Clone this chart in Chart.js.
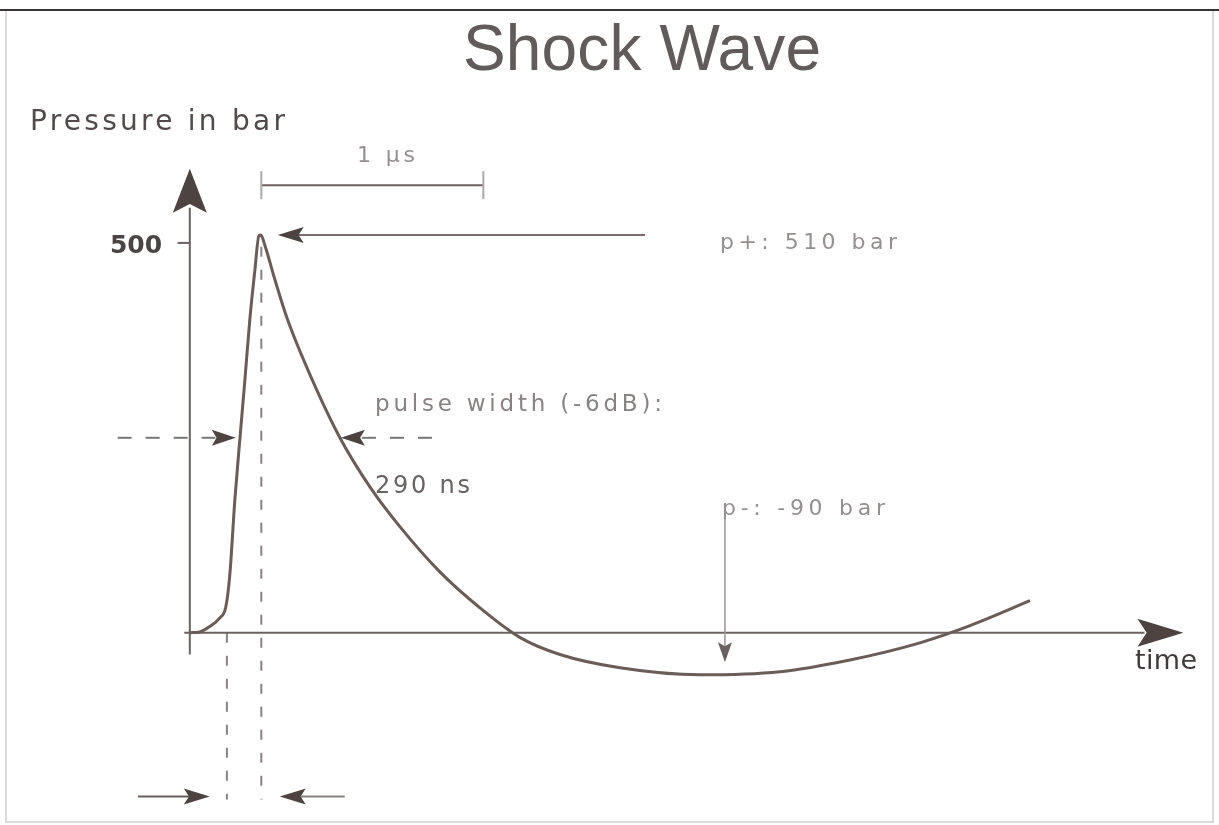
<!DOCTYPE html>
<html>
<head>
<meta charset="utf-8">
<title>Shock Wave</title>
<script src="https://cdn.jsdelivr.net/npm/chart.js@4.4.1/dist/chart.umd.min.js"></script>
<style>
  html, body { margin: 0; padding: 0; background: #fff; }
  #wrap { width: 1219px; height: 825px; }
</style>
</head>
<body>
<div id="wrap"><canvas id="shockChart" width="1219" height="825"></canvas></div>
<script>
// ================================
// DATA (time in ns, pressure in bar)
// ================================
const timeNs = [0, 45, 90, 135, 162, 180, 203, 225, 248, 270, 293, 311, 320,
  338, 383, 441, 541, 676, 811, 946, 1126, 1306, 1486, 1667, 1937, 2297,
  2658, 2973, 3288, 3514, 3784];
const pressureBar = [0, 1, 8, 19, 33, 74, 171, 247, 324, 401, 465, 509, 510,
  497, 453, 401, 331, 250, 187, 136, 78, 32, -6, -28, -45, -54,
  -50, -35, -13, 9, 41];

const yTicks = [500];
const footTime = 167;       // start of steep rise
const peakTime = 322;       // peak pressure time
const halfPressure = 250;   // -6 dB level
const riseHalfTime = 216;
const fallHalfTime = 676;
const troughTime = 2410;
const scaleBarNs = 1000;    // "1 µs"

const titleText = "Shock Wave";
const yAxisTitle = "Pressure in bar";
const xAxisTitle = "time";
const peakLabel = "p+: 510 bar";
const troughLabel = "p-: -90 bar";
const widthLabel = "pulse width (-6dB):";
const widthValue = "290 ns";
const scaleLabel = "1 \u00b5s";

// ================================
// DRAW HELPERS
// ================================
const INK = "#4d4341";
const AXIS = "#6b6262";

function arrowHead(ctx, tx, ty, angle, len, halfW, color) {
  ctx.save();
  ctx.translate(tx, ty);
  ctx.rotate(angle);
  ctx.beginPath();
  ctx.moveTo(0, 0);
  ctx.lineTo(-len, -halfW);
  ctx.lineTo(-len * 0.8, 0);
  ctx.lineTo(-len, halfW);
  ctx.closePath();
  ctx.fillStyle = color || INK;
  ctx.fill();
  ctx.restore();
}

function line(ctx, x1, y1, x2, y2, color, width, dash) {
  ctx.save();
  ctx.beginPath();
  ctx.setLineDash(dash || []);
  ctx.moveTo(x1, y1);
  ctx.lineTo(x2, y2);
  ctx.strokeStyle = color;
  ctx.lineWidth = width;
  ctx.stroke();
  ctx.restore();
}

// text stretched to a given width with letter spacing
function fitText(ctx, text, x, y, width, font, color, align) {
  ctx.save();
  ctx.font = font;
  ctx.fillStyle = color;
  ctx.textBaseline = "alphabetic";
  ctx.letterSpacing = "0px";
  const w = ctx.measureText(text).width;
  const sp = text.length > 1 ? (width - w) / (text.length - 1) : 0;
  ctx.letterSpacing = sp.toFixed(2) + "px";
  let left = x;
  if (align === "right") left = x - width;
  if (align === "center") left = x - width / 2;
  ctx.textAlign = "left";
  ctx.fillText(text, left, y);
  ctx.restore();
}

// ================================
// DIAGRAM PLUGIN
// ================================
const diagramPlugin = {
  id: "diagram",
  beforeDraw(chart) {
    const ctx = chart.ctx;
    ctx.save();
    ctx.fillStyle = "#fff";
    ctx.fillRect(0, 0, chart.width, chart.height);
    ctx.strokeStyle = "#cfcfcf";
    ctx.lineWidth = 1.5;
    ctx.strokeRect(6, 10, chart.width - 12, chart.height - 13);
    ctx.restore();
    line(ctx, 0, 10, chart.width, 10, "#3a3438", 2);
  },
  beforeDatasetsDraw(chart) {
    const ctx = chart.ctx;
    const X = v => chart.scales.x.getPixelForValue(v);
    const Y = v => chart.scales.y.getPixelForValue(v);

    // vertical dashed guides
    line(ctx, X(footTime), Y(0), X(footTime), Y(-214), "#8a8282", 2, [10, 13]);
    line(ctx, X(peakTime), Y(495), X(peakTime), Y(-214), "#8a8282", 2, [10, 13]);

    // y axis
    line(ctx, X(0), Y(-28), X(0), Y(545), AXIS, 2);
    arrowHead(ctx, X(0), Y(595), -Math.PI / 2, 44, 17, INK);
    yTicks.forEach(t => {
      line(ctx, X(-55), Y(t), X(0), Y(t), AXIS, 2);
      fitText(ctx, String(t), X(-125), Y(t) + 10, 52, "bold 25px 'DejaVu Sans'", "#4a4444", "right");
    });

    // x axis
    line(ctx, X(-25), Y(0), X(4300), Y(0), AXIS, 2);
    arrowHead(ctx, X(4475), Y(0), 0, 46, 14, INK);
  },
  afterDatasetsDraw(chart) {
    const ctx = chart.ctx;
    const X = v => chart.scales.x.getPixelForValue(v);
    const Y = v => chart.scales.y.getPixelForValue(v);

    // title and axis names
    fitText(ctx, titleText, 642, 70, 358, "64px 'Liberation Sans'", "#615b5b", "center");
    fitText(ctx, yAxisTitle, 30, 130, 255, "28px 'DejaVu Sans'", "#504a4a");
    fitText(ctx, xAxisTitle, 1135, 669, 62, "27px 'DejaVu Sans'", "#403b3b");

    // 1 µs scale bar
    const sbY = Y(574);
    line(ctx, X(peakTime), sbY, X(peakTime + scaleBarNs), sbY, "#6e6060", 2);
    line(ctx, X(peakTime), sbY - 14, X(peakTime), sbY + 14, "#aaa", 2);
    line(ctx, X(peakTime + scaleBarNs), sbY - 14, X(peakTime + scaleBarNs), sbY + 14, "#aaa", 2);
    fitText(ctx, scaleLabel, 357, 162, 58, "22px 'DejaVu Sans'", "#959090");

    // peak arrow
    line(ctx, X(2050), Y(510), X(420), Y(510), "#7a6c6c", 2);
    arrowHead(ctx, X(396), Y(510), Math.PI, 26, 8, INK);
    fitText(ctx, peakLabel, 720, 249, 177, "22px 'DejaVu Sans'", "#959090");

    // pulse width markers
    line(ctx, X(-325), Y(halfPressure), X(115), Y(halfPressure), "#777", 2, [14, 14]);
    arrowHead(ctx, X(riseHalfTime) - 2, Y(halfPressure), 0, 24, 8, INK);
    line(ctx, X(fallHalfTime) + 22, Y(halfPressure), X(1103), Y(halfPressure), "#777", 2, [14, 14]);
    arrowHead(ctx, X(fallHalfTime) + 1, Y(halfPressure), Math.PI, 24, 8, INK);
    fitText(ctx, widthLabel, 375, 411, 287, "23px 'DejaVu Sans'", "#888282");
    fitText(ctx, widthValue, 375, 493, 95, "24px 'DejaVu Sans'", "#686262");

    // trough arrow
    line(ctx, X(troughTime), Y(147), X(troughTime), Y(-25), "#9a9595", 1.5);
    arrowHead(ctx, X(troughTime), Y(-38), Math.PI / 2, 20, 7, "#6a6060");
    fitText(ctx, troughLabel, 722, 515, 163, "22px 'DejaVu Sans'", "#959090");

    // rise time arrows at bottom
    const by = Y(-210);
    line(ctx, X(-234), by, X(70), by, "#6a6060", 2);
    arrowHead(ctx, X(90), by, 0, 26, 8, INK);
    line(ctx, X(698), by, X(425), by, "#8a8282", 2);
    arrowHead(ctx, X(405), by, Math.PI, 26, 8, INK);
  }
};

// ================================
// SHOCK WAVE CURVE (LINE)
// ================================
const canvas = document.getElementById("shockChart");

new Chart(canvas, {
  type: "line",
  data: {
    datasets: [{
      label: "Pressure",
      data: timeNs.map((t, i) => ({ x: t, y: pressureBar[i] })),
      borderColor: "#6b5c58",
      borderWidth: 3,
      pointRadius: 0,
      fill: false,
      cubicInterpolationMode: "monotone"
    }]
  },
  options: {
    responsive: false,
    animation: false,
    devicePixelRatio: 1,
    layout: { padding: { left: 101, right: 30, top: 87, bottom: 13 } },
    plugins: {
      legend: { display: false },
      tooltip: { enabled: false },
      title: { display: false }
    },
    scales: {
      x: { type: "linear", min: -400, max: 4500, display: false },
      y: { type: "linear", min: -230, max: 700, display: false }
    }
  },
  plugins: [diagramPlugin]
});
</script>
</body>
</html>
